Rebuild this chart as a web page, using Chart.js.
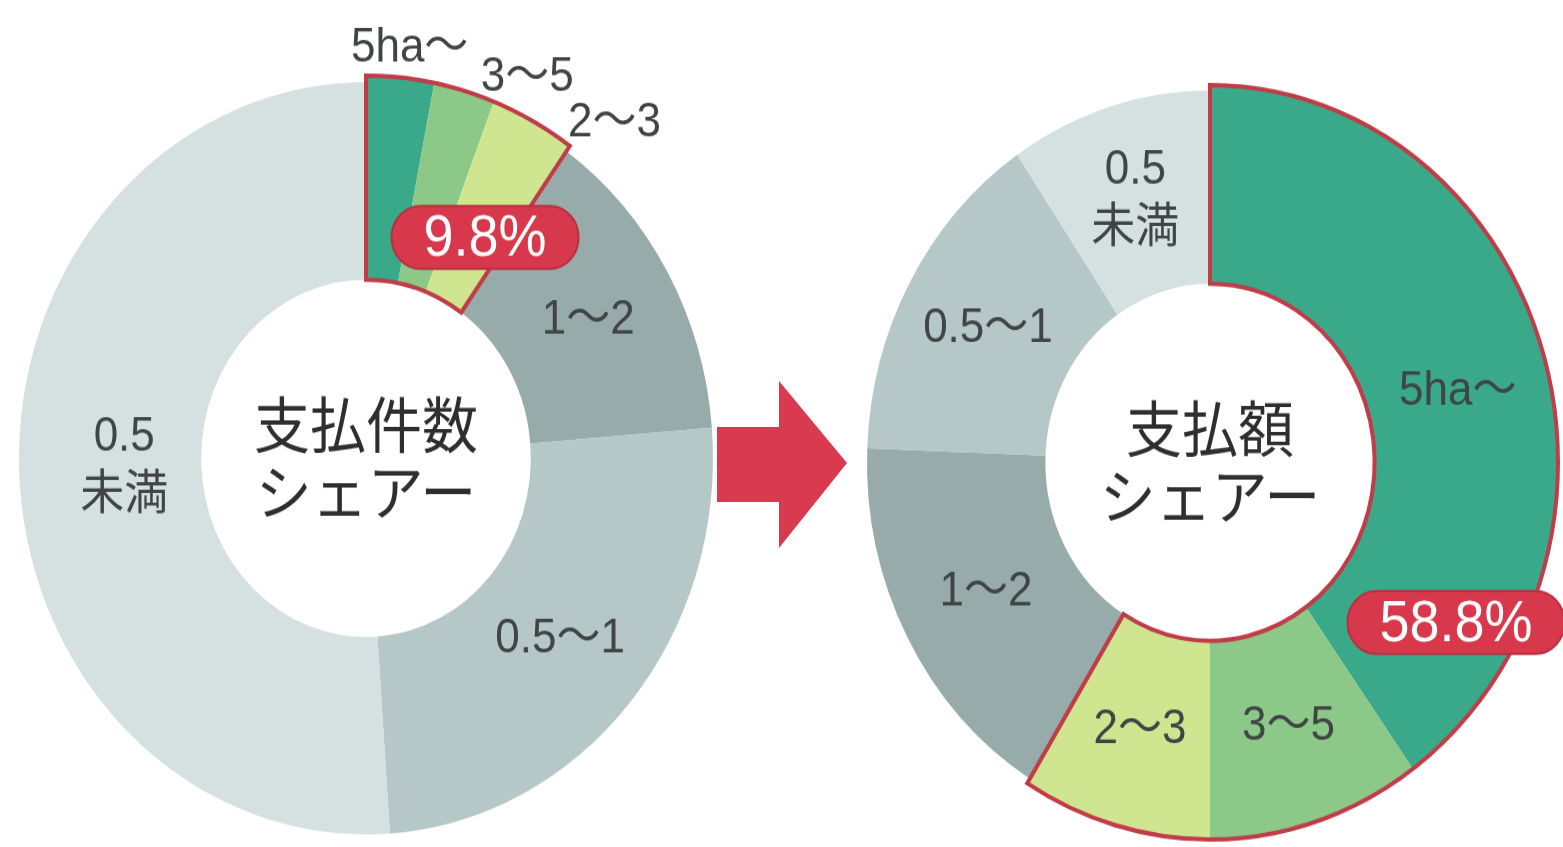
<!DOCTYPE html>
<html lang="ja">
<head>
<meta charset="utf-8">
<title>支払件数シェアー・支払額シェアー</title>
<script src="https://cdn.jsdelivr.net/npm/chart.js@4.4.1/dist/chart.umd.min.js"></script>
<style>
  html, body { margin: 0; padding: 0; background: #fff; overflow: hidden; }
  body { width: 1563px; height: 847px; position: relative; }
  /* rings are printed slightly taller than wide */
  .ring { position: absolute; transform: scaleY(1.084); transform-origin: 0 0; }
  #countChart { left: 0; top: 3px; }
  #amountChart { left: 844px; top: 7px; }
  #arrow { position: absolute; left: 0; top: 0; }
</style>
</head>
<body>
<canvas id="countChart" class="ring" width="732" height="840"></canvas>
<svg id="arrow" width="1563" height="847">
  <polygon points="717,427 779,427 779,381 847,463 779,548 779,502 717,502" fill="#d93a4f"/>
</svg>
<canvas id="amountChart" class="ring" width="732" height="840"></canvas>
<script>
'use strict';

// farm size classes (ha), clockwise from 12 o'clock
const sizeClasses = ['5ha〜', '3〜5', '2〜3', '1〜2', '0.5〜1', '0.5\n未満'];
// share of payment count (%)
const countShare = [3.1, 2.8, 3.9, 13.9, 25.2, 51.1];
// share of payment amount (%)
const amountShare = [40.1, 9.9, 8.8, 16.8, 14.9, 9.5];
// classes of 2ha and up, outlined in red
const largeClasses = [0, 1, 2];

const ringColors = ['#3aa98a', '#8cc887', '#d0e590', '#98abab', '#b6c7c7', '#d5e0e0'];
const labelFont = '44px "Liberation Sans", "Noto Sans CJK JP", sans-serif';
const titleFont = '56px "Noto Sans CJK JP", sans-serif';
const badgeFont = '54px "Liberation Sans", sans-serif';

const deg = Math.PI / 180;

function ringDecor(style) {
  return {
    id: 'ringDecor',
    afterDatasetUpdate(chart, args) {
      // lift the outlined classes a little above the rest of the ring
      args.meta.data.forEach((arc, i) => {
        if (largeClasses.includes(i)) arc.outerRadius += style.raise;
      });
    },
    afterDatasetsDraw(chart) {
      const ctx = chart.ctx;
      const arcs = chart.getDatasetMeta(0).data;
      const first = arcs[largeClasses[0]];
      const last = arcs[largeClasses[largeClasses.length - 1]];
      const {x, y} = first;

      ctx.save();
      ctx.beginPath();
      ctx.arc(x, y, first.outerRadius, first.startAngle, last.endAngle);
      ctx.arc(x, y, first.innerRadius, last.endAngle, first.startAngle, true);
      ctx.closePath();
      ctx.lineWidth = 4;
      ctx.strokeStyle = '#c03c48';
      ctx.stroke();

      // class labels
      ctx.font = labelFont;
      ctx.fillStyle = '#3f4444';
      ctx.textAlign = 'center';
      ctx.textBaseline = 'middle';
      arcs.forEach((arc, i) => {
        const place = style.places[i] || {};
        const a = (arc.startAngle + arc.endAngle) / 2 + (place.turn || 0) * deg;
        const r = place.out !== undefined
          ? arc.outerRadius + place.out
          : (arc.innerRadius + arc.outerRadius) / 2 + (place.shift || 0);
        const lines = chart.data.labels[i].split('\n');
        lines.forEach((t, k) => {
          ctx.fillText(t, x + Math.cos(a) * r, y + Math.sin(a) * r + (k - (lines.length - 1) / 2) * 54);
        });
      });

      // title in the hole
      ctx.font = titleFont;
      ctx.fillStyle = '#2e2e2e';
      style.title.forEach((t, k) => {
        ctx.fillText(t, x, y + (k - (style.title.length - 1) / 2) * 62);
      });

      // red badge with the summed share of the outlined classes
      const values = chart.data.datasets[0].data;
      const total = largeClasses.reduce((s, i) => s + values[i], 0);
      const text = total.toFixed(1) + '%';
      const ba = (style.badge.angle - 90) * deg;
      const bx = x + Math.cos(ba) * style.badge.r;
      const by = y + Math.sin(ba) * style.badge.r;
      ctx.font = badgeFont;
      const w = ctx.measureText(text).width + 64;
      const h = 58;
      ctx.beginPath();
      ctx.roundRect(bx - w / 2, by - h / 2, w, h, h / 2);
      ctx.fillStyle = '#d7384c';
      ctx.fill();
      ctx.lineWidth = 2;
      ctx.strokeStyle = '#b8313f';
      ctx.stroke();
      ctx.fillStyle = '#fff';
      ctx.fillText(text, bx, by + 2);
      ctx.restore();
    }
  };
}

function drawRing(id, values, style) {
  const ctx = document.getElementById(id).getContext('2d');
  return new Chart(ctx, {
    type: 'doughnut',
    data: {
      labels: sizeClasses,
      datasets: [
        {
          data: values,
          backgroundColor: ringColors,
          borderWidth: 0,
        },
      ],
    },
    options: {
      responsive: false,
      devicePixelRatio: 1,
      animation: false,
      events: [],
      radius: style.radius,
      cutout: style.cutout,
      plugins: {
        legend: { display: false },
        tooltip: { enabled: false },
      },
    },
    plugins: [ringDecor(style)],
  });
}

drawRing('countChart', countShare, {
  radius: 347,
  raise: 6,
  cutout: '47.5%',
  title: ['支払件数', 'シェアー'],
  places: [{ turn: 1, out: 28 }, { turn: 8.5, out: 33 }, { turn: 10.5, out: 44 }, {}, {}, { shift: -14 }],
  badge: { angle: 30.3, r: 236 },
});

drawRing('amountChart', amountShare, {
  radius: 343,
  raise: 5,
  cutout: '48%',
  title: ['支払額', 'シェアー'],
  places: [{ turn: 3 }],
  badge: { angle: 121, r: 287 },
});
</script>
</body>
</html>
